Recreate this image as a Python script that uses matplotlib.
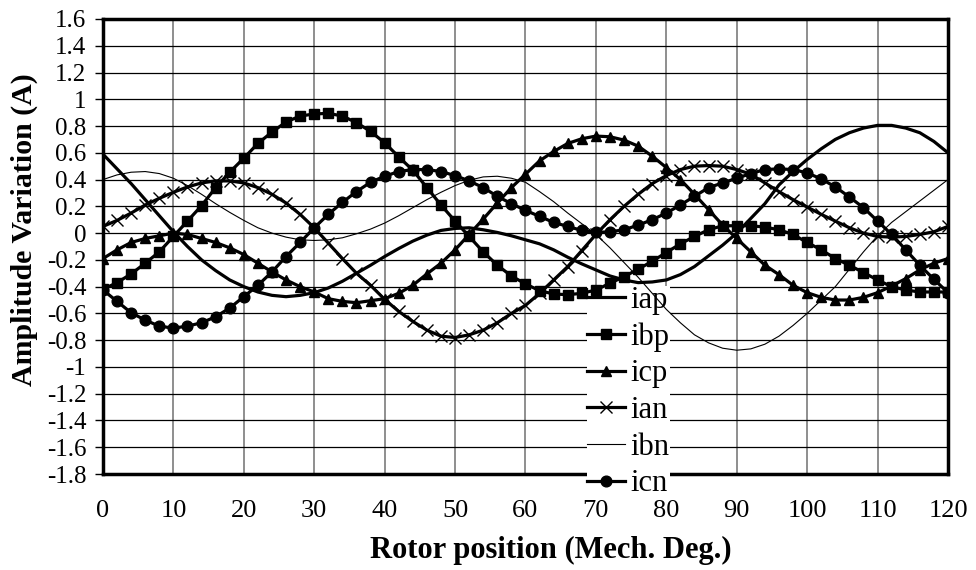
import numpy as np
import matplotlib
matplotlib.use("Agg")
import matplotlib.pyplot as plt

plt.rcParams['font.family'] = ['Liberation Serif', 'DejaVu Serif']
fs = 19

# rotor position, every 2 mech. degrees
pos = list(range(0, 121, 2))

iap = [0.59, 0.48, 0.37, 0.25, 0.13, 0.01, -0.10, -0.20, -0.28, -0.35, -0.40,
       -0.44, -0.465, -0.475, -0.465, -0.445, -0.41, -0.36, -0.30, -0.24, -0.175,
       -0.115, -0.06, -0.015, 0.02, 0.035, 0.04, 0.025, 0.005, -0.02, -0.05,
       -0.08, -0.125, -0.18, -0.23, -0.275, -0.32, -0.35, -0.37, -0.365, -0.35,
       -0.31, -0.25, -0.17, -0.09, 0.0, 0.11, 0.22, 0.36, 0.46, 0.55,
       0.63, 0.70, 0.75, 0.785, 0.805, 0.805, 0.785, 0.75, 0.685, 0.60]

ibp = [-0.42, -0.37, -0.305, -0.225, -0.14, -0.025, 0.09, 0.205, 0.34, 0.455, 0.56,
       0.67, 0.755, 0.83, 0.875, 0.89, 0.895, 0.875, 0.825, 0.76, 0.675,
       0.57, 0.47, 0.34, 0.21, 0.09, -0.025, -0.14, -0.24, -0.32, -0.38,
       -0.43, -0.455, -0.46, -0.45, -0.425, -0.375, -0.325, -0.27, -0.21, -0.145,
       -0.08, -0.025, 0.025, 0.055, 0.055, 0.055, 0.045, 0.025, -0.01, -0.07,
       -0.125, -0.19, -0.24, -0.295, -0.35, -0.40, -0.425, -0.44, -0.44, -0.44]

icp = [-0.19, -0.125, -0.07, -0.04, -0.02, 0.0, -0.01, -0.04, -0.07, -0.11, -0.16,
       -0.225, -0.29, -0.35, -0.40, -0.44, -0.49, -0.51, -0.52, -0.505, -0.49,
       -0.45, -0.39, -0.305, -0.225, -0.125, -0.01, 0.105, 0.225, 0.34, 0.44,
       0.54, 0.61, 0.67, 0.705, 0.725, 0.72, 0.695, 0.65, 0.575, 0.49,
       0.40, 0.29, 0.175, 0.06, -0.04, -0.14, -0.24, -0.31, -0.39, -0.445,
       -0.48, -0.50, -0.50, -0.48, -0.445, -0.395, -0.34, -0.275, -0.225, -0.19]

ian = [0.05, 0.095, 0.15, 0.21, 0.26, 0.305, 0.345, 0.375, 0.39, 0.39, 0.375,
       0.34, 0.29, 0.225, 0.14, 0.04, -0.075, -0.19, -0.30, -0.39, -0.495,
       -0.585, -0.66, -0.725, -0.77, -0.78, -0.76, -0.725, -0.67, -0.60, -0.54,
       -0.45, -0.35, -0.25, -0.13, -0.01, 0.10, 0.20, 0.29, 0.37, 0.43,
       0.475, 0.50, 0.505, 0.50, 0.475, 0.44, 0.375, 0.31, 0.25, 0.195,
       0.14, 0.09, 0.04, 0.0, -0.025, -0.03, -0.025, -0.01, 0.01, 0.05]

ibn = [0.40, 0.435, 0.455, 0.46, 0.445, 0.41, 0.355, 0.29, 0.22, 0.155, 0.095,
       0.04, 0.0, -0.03, -0.05, -0.055, -0.05, -0.035, -0.005, 0.03, 0.075,
       0.13, 0.19, 0.25, 0.305, 0.355, 0.395, 0.42, 0.425, 0.41, 0.38,
       0.31, 0.235, 0.15, 0.07, -0.01, -0.11, -0.22, -0.33, -0.45, -0.57,
       -0.67, -0.76, -0.82, -0.86, -0.875, -0.865, -0.83, -0.77, -0.69, -0.60,
       -0.50, -0.40, -0.27, -0.14, -0.02, 0.08, 0.16, 0.24, 0.32, 0.40]

icn = [-0.425, -0.51, -0.595, -0.65, -0.695, -0.71, -0.695, -0.67, -0.625, -0.56, -0.475,
       -0.39, -0.29, -0.175, -0.07, 0.04, 0.14, 0.23, 0.31, 0.38, 0.425,
       0.46, 0.475, 0.475, 0.46, 0.43, 0.39, 0.34, 0.275, 0.22, 0.17,
       0.125, 0.08, 0.05, 0.02, 0.005, 0.01, 0.025, 0.06, 0.10, 0.15,
       0.21, 0.275, 0.34, 0.375, 0.41, 0.445, 0.475, 0.48, 0.475, 0.45,
       0.405, 0.345, 0.27, 0.19, 0.09, -0.01, -0.125, -0.24, -0.345, -0.445]

fig = plt.figure(figsize=(9.76, 5.70), dpi=100)
ax = fig.add_axes([0.1055, 0.1684, 0.8658, 0.7983])

lw = 2.3
ax.plot(pos, iap, c='k', lw=lw, label='iap', zorder=3)
ax.plot(pos, ibp, c='k', lw=lw, marker='s', ms=7, label='ibp', zorder=3)
ax.plot(pos, icp, c='k', lw=lw, marker='^', ms=7, label='icp', zorder=3)
ax.plot(pos, ian, c='k', lw=lw, marker='x', ms=8.5, mew=1.0, label='ian', zorder=3)
ax.plot(pos, ibn, c='k', lw=0.8, label='ibn', zorder=3)
ax.plot(pos, icn, c='k', lw=lw, marker='o', ms=7.7, label='icn', zorder=3)

ax.set_xlim(0, 120)
ax.set_ylim(-1.8, 1.6)
ax.set_xticks(np.arange(0, 121, 10))
yt = np.round(np.arange(-1.8, 1.61, 0.2), 1) + 0.0
ax.set_yticks(yt)
ax.set_yticklabels(['0' if abs(v) < 1e-9 else f'{v:g}' for v in yt])

ax.grid(axis='y', color='k', lw=0.9)
ax.grid(axis='x', color='#707070', lw=1.1)
ax.set_axisbelow(True)
for s in ax.spines.values():
    s.set_linewidth(2.5)

ax.tick_params(axis='y', direction='out', length=6, width=1, labelsize=18, pad=6)
ax.tick_params(axis='x', length=0, labelsize=fs, pad=19)

ax.set_xlabel('Rotor position (Mech. Deg.)', fontsize=22, fontweight='bold')
ax.set_ylabel('Amplitude Variation (A)', fontsize=21.5, fontweight='bold')
ax.xaxis.set_label_coords(0.53, -0.169)
ax.yaxis.set_label_coords(-0.0935, 0.536)
ax.xaxis.label.set_va('center')
ax.yaxis.label.set_va('center')

leg = ax.legend(loc='upper left', bbox_to_anchor=(0.601, 0.499), bbox_transform=fig.transFigure,
                fontsize=22, frameon=True, fancybox=False, edgecolor='none', framealpha=1,
                handlelength=1.25, handletextpad=0.2, labelspacing=0.25, borderpad=0.0,
                borderaxespad=0)
# legend box hides grid and bottom spine, but curves pass over it
leg.set_zorder(2.8)

plt.savefig('out.png', dpi=100)
